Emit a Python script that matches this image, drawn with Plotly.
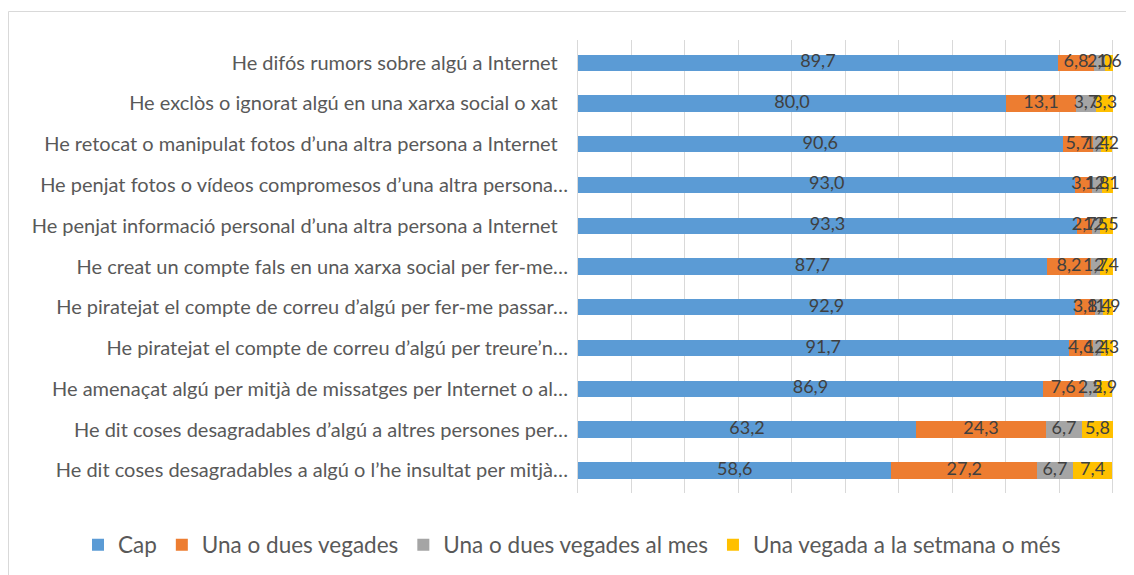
import plotly.graph_objects as go
import numpy as np

categories = [
    "He difós rumors sobre algú a Internet\u00a0\u00a0",
    "He exclòs o ignorat algú en una xarxa social o xat\u00a0\u00a0",
    "He retocat o manipulat fotos d’una altra persona a Internet\u00a0\u00a0",
    "He penjat fotos o vídeos compromesos d’una altra persona…",
    "He penjat informació personal d’una altra persona a Internet\u00a0\u00a0",
    "He creat un compte fals en una xarxa social per fer-me…",
    "He piratejat el compte de correu d’algú per fer-me passar…",
    "He piratejat el compte de correu d’algú per treure’n…",
    "He amenaçat algú per mitjà de missatges per Internet o al…",
    "He dit coses desagradables d’algú a altres persones per…",
    "He dit coses desagradables a algú o l’he insultat per mitjà…",
]

cap = [89.7, 80.0, 90.6, 93.0, 93.3, 87.7, 92.9, 91.7, 86.9, 63.2, 58.6]
una_dues = [6.8, 13.1, 5.7, 3.1, 2.7, 8.2, 3.8, 4.6, 7.6, 24.3, 27.2]
una_dues_mes = [2.0, 3.7, 1.4, 1.8, 1.5, 1.7, 1.4, 1.4, 2.5, 6.7, 6.7]
setmana = [1.6, 3.3, 2.2, 2.1, 2.5, 2.4, 1.9, 2.3, 2.9, 5.8, 7.4]

series = [
    ("Cap", cap, "#5B9BD5"),
    ("Una o dues vegades", una_dues, "#ED7D31"),
    ("Una o dues vegades al mes", una_dues_mes, "#A5A5A5"),
    ("Una vegada a la setmana o més", setmana, "#FFC000"),
]

FONT = "Lato"

# page body has an 8px margin; figure is sized to fill the rest of the window
W, H = 1126, 567
L, R, T, B = 570, 20, 32, 82
PW, PH = W - L - R, H - T - B
XMAX = 100.2

fig = go.Figure()
for name, vals, color in series:
    fig.add_trace(go.Bar(
        y=categories, x=vals, name=name, orientation="h",
        marker=dict(color=color, line=dict(width=0)),
        hoverinfo="skip",
    ))

# data labels drawn above all bars (like the original), centred on each segment
left = np.zeros(len(categories))
for name, vals, color in series:
    v = np.array(vals)
    fig.add_trace(go.Scatter(
        x=left + v / 2, y=categories, mode="text",
        text=[f"{a:.1f}".replace(".", ",") for a in vals],
        textposition="middle center",
        textfont=dict(family=FONT, size=18, color="#404040"),
        cliponaxis=False, showlegend=False, hoverinfo="skip",
    ))
    left = left + v


def px_x(fx):
    return (fx - L) / PW


def px_y(fy):
    return 1 - (fy - T) / PH


fig.update_layout(
    width=W, height=H,
    barmode="stack", bargap=0.6,
    paper_bgcolor="white", plot_bgcolor="white",
    margin=dict(l=L, r=R, t=T, b=B, autoexpand=False),
    font=dict(family=FONT, color="#595959"),
    legend=dict(
        orientation="h", xref="paper", yref="paper",
        x=px_x(70), xanchor="left", y=px_y(537), yanchor="middle",
        font=dict(family=FONT, size=22.5, color="#595959"),
        traceorder="normal", itemwidth=30,
    ),
    xaxis=dict(
        range=[0, XMAX], tickvals=list(range(0, 101, 10)), showgrid=True,
        gridcolor="#D9D9D9", gridwidth=1,
        showticklabels=False, zeroline=False, showline=False, ticks="",
    ),
    yaxis=dict(
        autorange="reversed", showline=True, linecolor="#D9D9D9", linewidth=1,
        ticks="", ticklabelstandoff=5, automargin=False,
        tickfont=dict(family=FONT, size=20, color="#595959"),
        showgrid=False,
    ),
    shapes=[
        dict(type="line", xref="paper", yref="paper", x0=px_x(0.5), x1=px_x(W + 5),
             y0=px_y(3.5), y1=px_y(3.5), line=dict(color="#D9D9D9", width=1)),
        dict(type="line", xref="paper", yref="paper", x0=px_x(0.5), x1=px_x(0.5),
             y0=px_y(3.5), y1=px_y(H + 5), line=dict(color="#D9D9D9", width=1)),
    ],
)

fig.write_html("out.html")
